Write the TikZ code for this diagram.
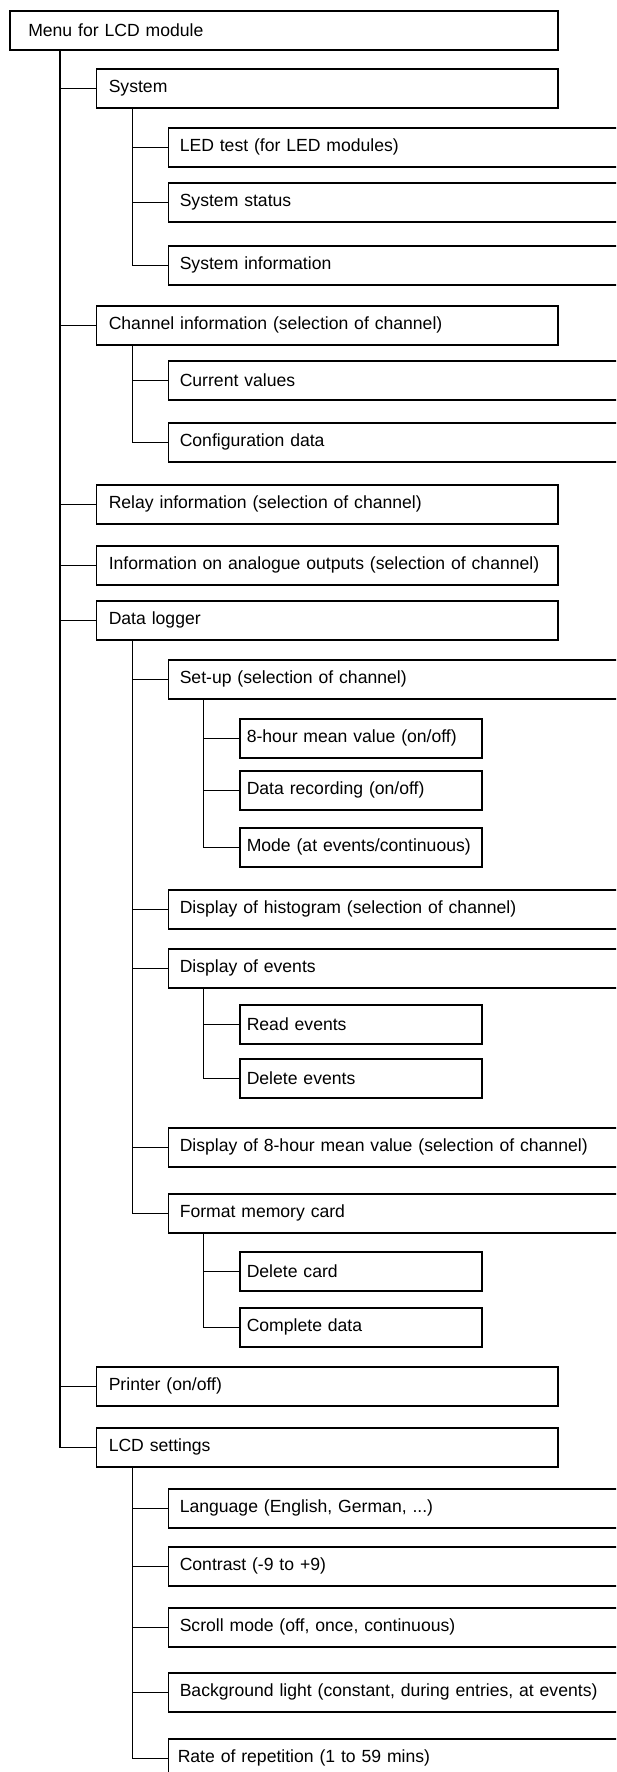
\documentclass[tikz,border=0pt]{standalone}
\usepackage{fontspec}
\setmainfont{Liberation Sans}

\tikzset{
  menubox/.style={draw, line width=1.5pt, anchor=north west, minimum height=39pt,
    inner ysep=0pt, align=left, font=\fontsize{17.6}{20}\selectfont},
  lvl0/.style={menubox, inner xsep=18.5pt, text width=511pt},
  lvl1/.style={menubox, inner xsep=12.5pt, text width=436.5pt},
  lvl2/.style={menubox, inner xsep=11.5pt, text width=457pt},
  lvl3/.style={menubox, inner xsep=7pt, text width=228pt},
  branch/.style={line width=1.5pt}
}

\begin{document}
\begin{tikzpicture}[x=1pt,y=-1pt]
\path[use as bounding box, clip] (0,0) rectangle (616,1772);

% top entry
\node[lvl0] (menu) at (9,10) {Menu for LCD module};

% first level
\node[lvl1] (sys) at (95.5,68) {System};
\node[lvl1] (chan) at (95.5,305) {Channel information (selection of channel)};
\node[lvl1] (relay) at (95.5,484) {Relay information (selection of channel)};
\node[lvl1] (aout) at (95.5,545) {Information on analogue outputs (selection of channel)};
\node[lvl1] (logger) at (95.5,600) {Data logger};
\node[lvl1] (printer) at (95.5,1366) {Printer (on/off)};
\node[lvl1] (lcd) at (95.5,1427) {LCD settings};

% second level
\node[lvl2] (ledtest) at (167.5,127) {LED test (for LED modules)};
\node[lvl2] (sysstat) at (167.5,182) {System status};
\node[lvl2] (sysinfo) at (167.5,245) {System information};

\node[lvl2] (curval) at (167.5,360) {Current values};
\node[lvl2] (config) at (167.5,422) {Configuration data};

\node[lvl2] (setup) at (167.5,659) {Set-up (selection of channel)};
\node[lvl2] (histo) at (167.5,889) {Display of histogram (selection of channel)};
\node[lvl2] (events) at (167.5,948) {Display of events};
\node[lvl2] (mean) at (167.5,1127) {Display of 8-hour mean value (selection of channel)};
\node[lvl2] (format) at (167.5,1193) {Format memory card};

\node[lvl2] (lang) at (167.5,1488) {Language (English, German, ...)};
\node[lvl2] (contrast) at (167.5,1546) {Contrast (-9 to +9)};
\node[lvl2] (scroll) at (167.5,1607) {Scroll mode (off, once, continuous)};
\node[lvl2] (light) at (167.5,1672) {Background light (constant, during entries, at events)};
\node[lvl2, inner xsep=9.5pt, text width=461pt] (repeat) at (167.5,1738) {Rate of repetition (1 to 59 mins)};

% third level
\node[lvl3] (meanval) at (239,718) {8-hour mean value (on/off)};
\node[lvl3] (record) at (239,770) {Data recording (on/off)};
\node[lvl3] (mode) at (239,827) {Mode (at events/continuous)};

\node[lvl3] (readev) at (239,1004) {Read events};
\node[lvl3] (delev) at (239,1058) {Delete events};

\node[lvl3] (delcard) at (239,1251) {Delete card};
\node[lvl3] (complete) at (239,1307) {Complete data};

% trunks
\draw[branch] (menu.south west) ++(51,0) coordinate (t0) |- (lcd.west);
\foreach \n in {sys,chan,relay,aout,logger,printer}
  \draw[branch] (t0 |- \n.west) -- (\n.west);

\draw[branch] (sys.south west) ++(37,0) coordinate (t1) |- (sysinfo.west);
\foreach \n in {ledtest,sysstat}
  \draw[branch] (t1 |- \n.west) -- (\n.west);

\draw[branch] (chan.south west) ++(37,0) coordinate (t2) |- (config.west);
\draw[branch] (t2 |- curval.west) -- (curval.west);

\draw[branch] (logger.south west) ++(37,0) coordinate (t3) |- (format.west);
\foreach \n in {setup,histo,events,mean}
  \draw[branch] (t3 |- \n.west) -- (\n.west);

\draw[branch] (lcd.south west) ++(37,0) coordinate (t4) |- (repeat.west);
\foreach \n in {lang,contrast,scroll,light}
  \draw[branch] (t4 |- \n.west) -- (\n.west);

\draw[branch] (setup.south west) ++(36,0) coordinate (t5) |- (mode.west);
\foreach \n in {meanval,record}
  \draw[branch] (t5 |- \n.west) -- (\n.west);

\draw[branch] (events.south west) ++(36,0) coordinate (t6) |- (delev.west);
\draw[branch] (t6 |- readev.west) -- (readev.west);

\draw[branch] (format.south west) ++(36,0) coordinate (t7) |- (complete.west);
\draw[branch] (t7 |- delcard.west) -- (delcard.west);
\end{tikzpicture}
\end{document}
